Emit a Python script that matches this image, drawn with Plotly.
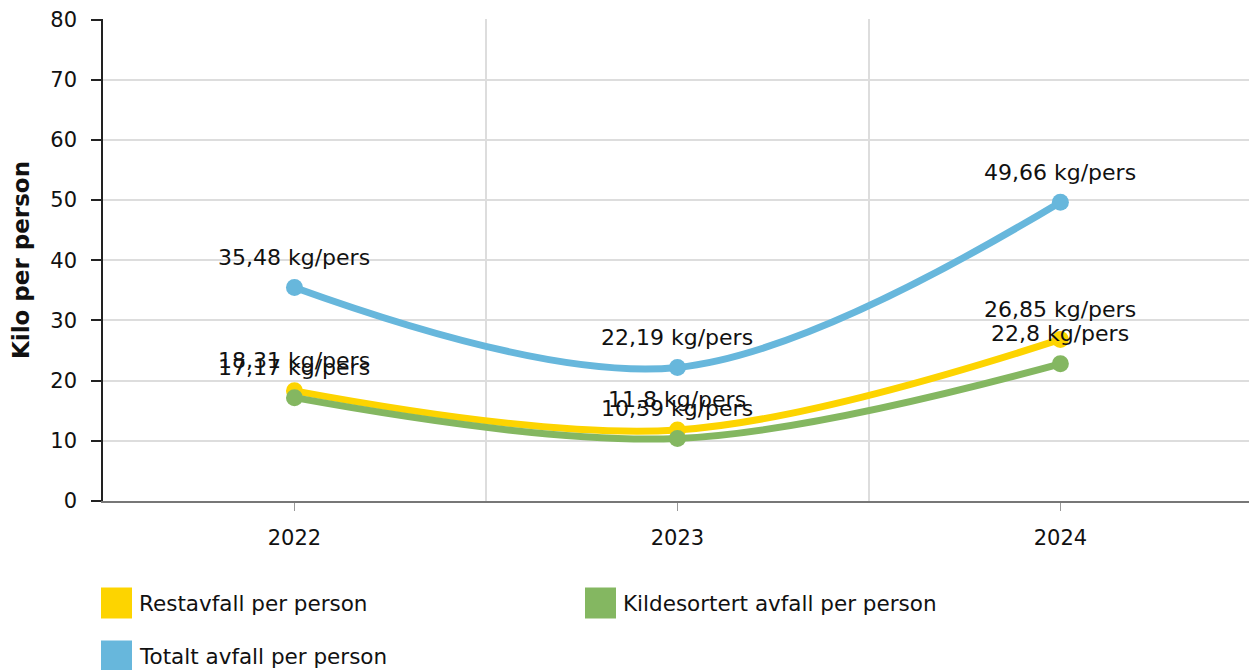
import plotly.graph_objects as go

years = ["2022", "2023", "2024"]
series_names = ["Restavfall per person", "Kildesortert avfall per person", "Totalt avfall per person"]
restavfall = [18.31, 11.8, 26.85]
kildesortert = [17.17, 10.39, 22.8]
totalt = [35.48, 22.19, 49.66]
colors = ["#fdd400", "#84b761", "#67b7dc"]
y_ticks = [0, 10, 20, 30, 40, 50, 60, 70, 80]

FONT = "DejaVu Sans"
# page body has an 8px margin, so figure coordinates are offset by 8px
W, H = 1249, 662
ML, MR, MT, MB = 95, 4, 11, 169
PW, PH = W - ML - MR, H - MT - MB

x_idx = list(range(len(years)))

def fmt(v):
    s = ("%.2f" % v).rstrip("0").rstrip(".")
    return s.replace(".", ",") + " kg/pers"

fig = go.Figure()
all_vals = [restavfall, kildesortert, totalt]
for name, vals, col in zip(series_names, all_vals, colors):
    fig.add_trace(go.Scatter(
        x=x_idx, y=vals, name=name, mode="lines+markers",
        line=dict(color=col, width=7, shape="spline", smoothing=1.0),
        marker=dict(color=col, size=17),
        showlegend=False, cliponaxis=False,
    ))
for vals in all_vals:
    for xi, v in zip(x_idx, vals):
        fig.add_annotation(x=xi, y=v, text=fmt(v), showarrow=False,
                           yshift=30, xanchor="center", yanchor="middle",
                           font=dict(family=FONT, size=22, color="#111"))

fig.update_layout(
    width=W, height=H,
    margin=dict(l=ML, r=MR, t=MT, b=MB, autoexpand=False),
    paper_bgcolor="white", plot_bgcolor="white",
    font=dict(family=FONT, size=21, color="#111"),
    showlegend=False,
    xaxis=dict(
        range=[-0.5, len(years) - 0.5 + 0.003], tickmode="array", tickvals=x_idx, ticktext=years,
        showgrid=False, zeroline=False, automargin=False,
        showline=True, linecolor="#777", linewidth=2,
        ticks="outside", ticklen=8, tickcolor="#999", tickwidth=1,
        ticklabelstandoff=9,
        minor=dict(tickmode="array", tickvals=[i + 0.5 for i in range(-1, len(years))],
                   showgrid=True, gridcolor="#dddddd", gridwidth=1.5, ticks=""),
        fixedrange=True,
    ),
    yaxis=dict(
        range=[0, 80.1], tickmode="array", tickvals=y_ticks,
        showgrid=True, gridcolor="#dddddd", gridwidth=1.5, zeroline=False, automargin=False,
        showline=True, linecolor="#222", linewidth=1.5,
        ticks="outside", ticklen=10, tickcolor="#222", tickwidth=1.5,
        ticklabelstandoff=10, ticklabeloverflow="allow",
        title=dict(text="<b>Kilo per person</b>", font=dict(family=FONT, size=23, color="#111"), standoff=14),
        fixedrange=True,
    ),
)

# Custom legend (square swatches + labels), positions in page pixels
legend_pos = [(101, 603), (585, 603), (101, 656)]
for (px, py), name, col in zip(legend_pos, series_names, colors):
    fx, fy = px - 8, py - 8
    fig.add_shape(type="rect", xref="paper", yref="paper",
                  x0=(fx - ML) / PW, x1=(fx + 31 - ML) / PW,
                  y0=(H - MB - (fy + 15.5)) / PH, y1=(H - MB - (fy - 15.5)) / PH,
                  fillcolor=col, line=dict(width=0))
    fig.add_annotation(text=name, xref="paper", yref="paper",
                       x=(fx + 36 - ML) / PW, y=(H - MB - fy) / PH,
                       xanchor="left", yanchor="middle", showarrow=False,
                       font=dict(family=FONT, size=21.5, color="#111"))

fig.write_html("out.html")
